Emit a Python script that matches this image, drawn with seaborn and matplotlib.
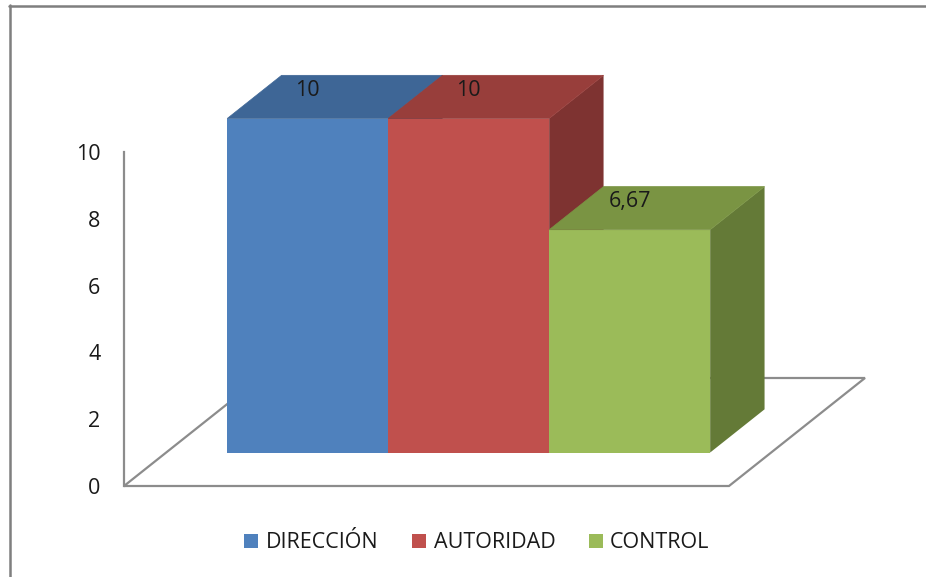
import matplotlib
matplotlib.use("Agg")
import matplotlib.pyplot as plt
from matplotlib.patches import Polygon, Patch
from matplotlib.lines import Line2D
import seaborn as sns
import pandas as pd

# Chart data
categories = ["DIRECCIÓN", "AUTORIDAD", "CONTROL"]
values = [10, 10, 6.67]
value_labels = ["10", "10", "6,67"]
y_ticks = [0, 2, 4, 6, 8, 10]

# Face colours of the 3D columns (front, top, right side)
front_colors = ["#4F81BD", "#C0504D", "#9BBB59"]
top_colors = ["#3E6696", "#983E3B", "#7A9443"]
side_colors = ["#33557D", "#7E3331", "#647A37"]

df = pd.DataFrame({"categoria": categories, "valor": values})

sns.set_theme(style="white")
plt.rcParams["font.family"] = ["Open Sans", "DejaVu Sans"]

W, H = 926, 577
fig = plt.figure(figsize=(W / 100, H / 100), dpi=100)
fig.patch.set_facecolor("white")

# Plot area placed in pixel terms: left spine at x=124, value 0 at y=486
ax_l, ax_r, ax_t, ax_b = 124, 926, 30, 486
ax = fig.add_axes([ax_l / W, (H - ax_b) / H, (ax_r - ax_l) / W, (ax_b - ax_t) / H])
ax.set_facecolor("none")

px_per_x = 161.0      # one category slot
px_per_y = 33.4       # one value unit
floor_dx = 136 / px_per_x   # depth of the floor, horizontal component
floor_dy = 108 / px_per_y   # depth of the floor, vertical component
f_front, f_back = 0.31, 0.71  # column depth range as fraction of floor depth
margin = 61 / px_per_x

sns.barplot(data=df, x="categoria", y="valor", hue="categoria",
            palette=front_colors, saturation=1, width=1.0, dodge=False,
            legend=False, linewidth=0, ax=ax)

x_left = -0.5 - margin
ax.set_xlim(x_left, x_left + (ax_r - ax_l) / px_per_x)
ax.set_ylim(0, (ax_b - ax_t) / px_per_y)

# Floor outline
xr = len(categories) - 0.5 + margin
floor = Polygon([(x_left, 0), (xr, 0), (xr + floor_dx, floor_dy),
                 (x_left + floor_dx, floor_dy)], closed=True,
                facecolor="none", edgecolor="#8C8C8C", lw=1.6, zorder=1,
                clip_on=False)
ax.add_patch(floor)

sx, sy = f_front * floor_dx, f_front * floor_dy
bdx = (f_back - f_front) * floor_dx
bdy = (f_back - f_front) * floor_dy

text_size = 15.5

for i, patch in enumerate(ax.patches[:len(categories)]):
    patch.set_x(patch.get_x() + sx)
    patch.set_y(patch.get_y() + sy)
    patch.set_zorder(3 + 3 * i)
    x0 = patch.get_x()
    x1 = x0 + patch.get_width()
    yb = patch.get_y()
    yt = yb + patch.get_height()
    top = Polygon([(x0, yt), (x1, yt), (x1 + bdx, yt + bdy), (x0 + bdx, yt + bdy)],
                  closed=True, facecolor=top_colors[i], edgecolor=top_colors[i],
                  lw=0.5, zorder=3 + 3 * i)
    side = Polygon([(x1, yb), (x1, yt), (x1 + bdx, yt + bdy), (x1 + bdx, yb + bdy)],
                   closed=True, facecolor=side_colors[i], lw=0, zorder=2 + 3 * i)
    ax.add_patch(side)
    ax.add_patch(top)
    ax.annotate(value_labels[i], xy=((x0 + x1) / 2, yt), xytext=(0, 20),
                textcoords="offset points", ha="center", va="center",
                fontsize=text_size, color="#1A1A1A", zorder=20)

# Value axis
for name in ["top", "right", "bottom"]:
    ax.spines[name].set_visible(False)
ax.spines["left"].set_bounds(0, 10)
ax.spines["left"].set_color("#8C8C8C")
ax.spines["left"].set_linewidth(1.6)
ax.set_yticks(y_ticks)
ax.set_yticklabels([str(t) for t in y_ticks])
ax.tick_params(axis="y", length=0, pad=17, labelsize=text_size, labelcolor="#1A1A1A")
ax.set_xticks([])
ax.set_xlabel("")
ax.set_ylabel("")

# Legend
handles = [Patch(facecolor=c, edgecolor="none") for c in front_colors]
fig.legend(handles, categories, loc="center", bbox_to_anchor=(477 / W, (H - 543) / H),
           ncol=3, frameon=False, fontsize=text_size, handlelength=0.65,
           handleheight=0.65, handletextpad=0.35, columnspacing=1.55,
           labelcolor="#1A1A1A")

# Chart frame (top and left edges)
fig.add_artist(Line2D([9 / W, 1], [(H - 5.5) / H, (H - 5.5) / H],
                      transform=fig.transFigure, color="#7F7F7F", lw=1.8))
fig.add_artist(Line2D([9.5 / W, 9.5 / W], [0, (H - 5) / H],
                      transform=fig.transFigure, color="#7F7F7F", lw=1.8))

fig.savefig("out.png", dpi=100)
